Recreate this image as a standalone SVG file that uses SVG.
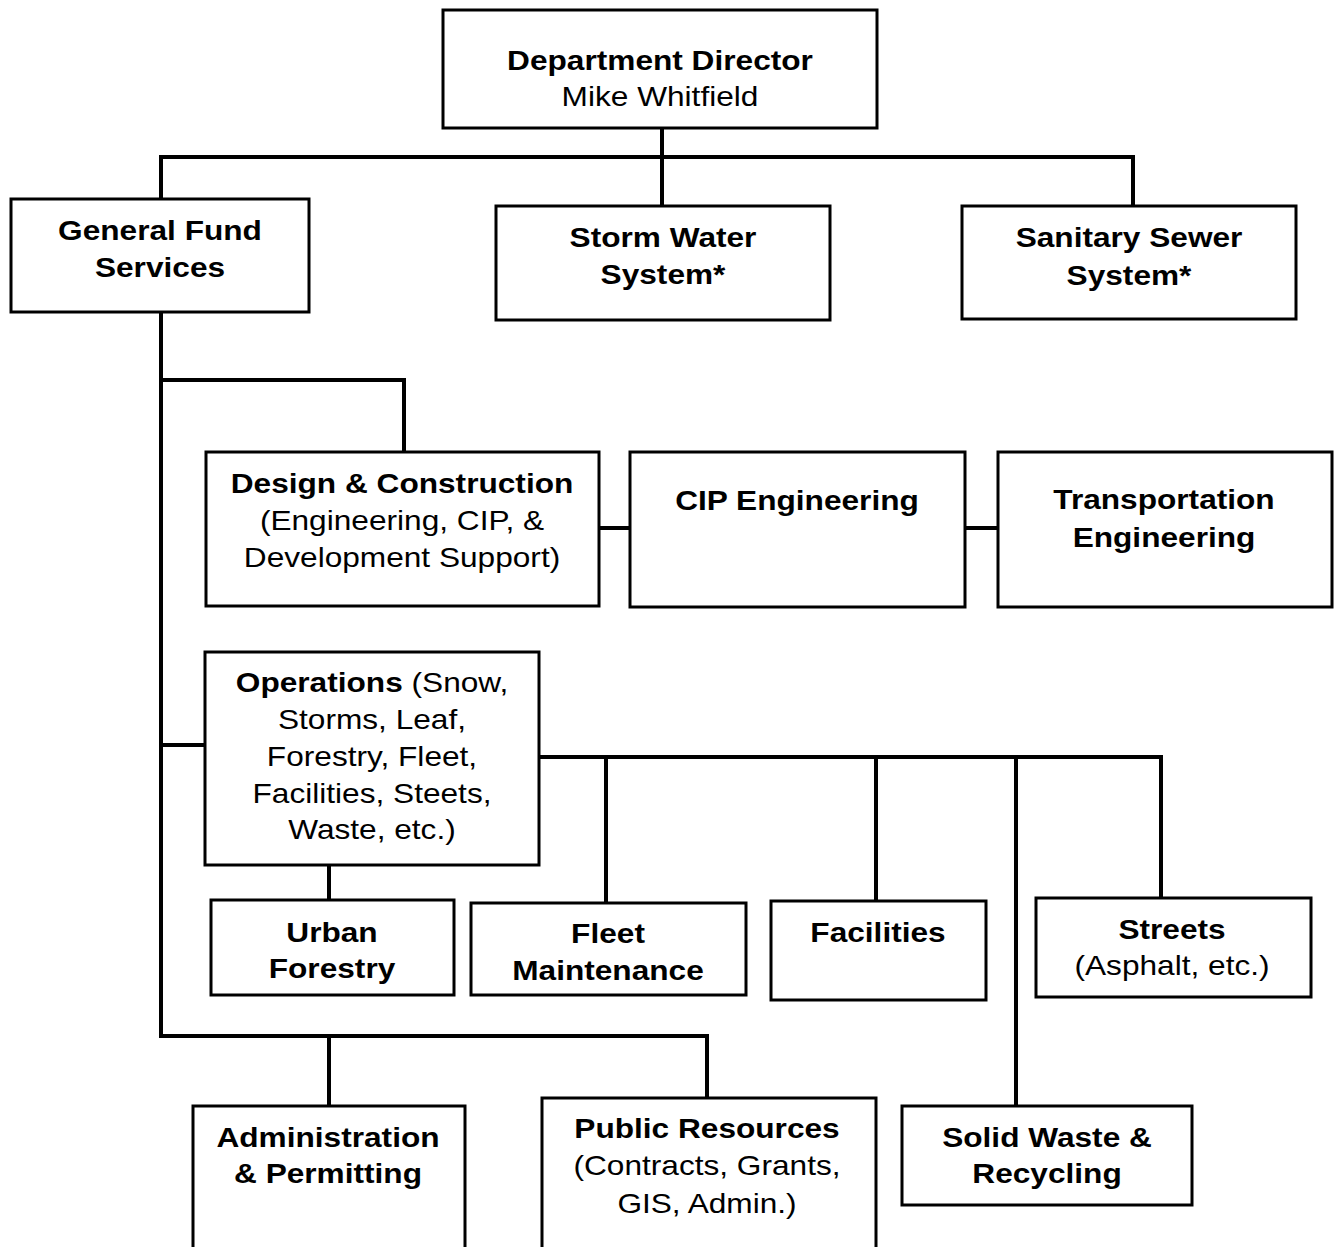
<svg xmlns="http://www.w3.org/2000/svg" width="1334" height="1247" viewBox="0 0 1334 1247">
<style>
.box{fill:#fff;stroke:#000;stroke-width:3}
.ln{fill:none;stroke:#000;stroke-width:4;stroke-linecap:square}
text{font-family:"Liberation Sans",Arial,sans-serif;font-size:28px;text-anchor:middle;fill:#000}
.b{font-weight:bold}
</style>
<rect width="1334" height="1247" fill="#fff"/>
<g id="connectors">
<path class="ln" d="M662 128V157M161 157H1133M161 157V199M662 157V206M1133 157V206"/>
<path class="ln" d="M161 312V1036M161 380H404V452M161 745H205"/>
<path class="ln" d="M599 528H630M965 528H998"/>
<path class="ln" d="M539 757H1161M606 757V903M876 757V901M1016 757V1106M1161 757V898M329 865V900"/>
<path class="ln" d="M161 1036H707V1098M329 1036V1106"/>
</g>
<g id="director"><rect class="box" x="443" y="10" width="434" height="118"/>
<text transform="translate(660,0) scale(1.13,1)" y="70" class="b">Department Director</text>
<text transform="translate(660,0) scale(1.13,1)" y="106">Mike Whitfield</text></g>
<g id="general"><rect class="box" x="11" y="199" width="298" height="113"/>
<text transform="translate(160,0) scale(1.13,1)" y="240" class="b">General Fund</text>
<text transform="translate(160,0) scale(1.13,1)" y="277" class="b">Services</text></g>
<g id="storm"><rect class="box" x="496" y="206" width="334" height="114"/>
<text transform="translate(663,0) scale(1.13,1)" y="247" class="b">Storm Water</text>
<text transform="translate(663,0) scale(1.13,1)" y="284" class="b">System*</text></g>
<g id="sanitary"><rect class="box" x="962" y="206" width="334" height="113"/>
<text transform="translate(1129,0) scale(1.13,1)" y="247" class="b">Sanitary Sewer</text>
<text transform="translate(1129,0) scale(1.13,1)" y="285" class="b">System*</text></g>
<g id="design"><rect class="box" x="206" y="452" width="393" height="154"/>
<text transform="translate(402,0) scale(1.13,1)" y="493" class="b">Design &amp; Construction</text>
<text transform="translate(402,0) scale(1.13,1)" y="530">(Engineering, CIP, &amp;</text>
<text transform="translate(402,0) scale(1.13,1)" y="567">Development Support)</text></g>
<g id="cip"><rect class="box" x="630" y="452" width="335" height="155"/>
<text transform="translate(797,0) scale(1.13,1)" y="510" class="b">CIP Engineering</text></g>
<g id="transport"><rect class="box" x="998" y="452" width="334" height="155"/>
<text transform="translate(1164,0) scale(1.13,1)" y="509" class="b">Transportation</text>
<text transform="translate(1164,0) scale(1.13,1)" y="547" class="b">Engineering</text></g>
<g id="operations"><rect class="box" x="205" y="652" width="334" height="213"/>
<text transform="translate(372,0) scale(1.13,1)" y="692"><tspan class="b">Operations</tspan> (Snow,</text>
<text transform="translate(372,0) scale(1.13,1)" y="729">Storms, Leaf,</text>
<text transform="translate(372,0) scale(1.13,1)" y="766">Forestry, Fleet,</text>
<text transform="translate(372,0) scale(1.13,1)" y="803">Facilities, Steets,</text>
<text transform="translate(372,0) scale(1.13,1)" y="839">Waste, etc.)</text></g>
<g id="urban"><rect class="box" x="211" y="900" width="243" height="95"/>
<text transform="translate(332,0) scale(1.13,1)" y="942" class="b">Urban</text>
<text transform="translate(332,0) scale(1.13,1)" y="978" class="b">Forestry</text></g>
<g id="fleet"><rect class="box" x="471" y="903" width="275" height="92"/>
<text transform="translate(608,0) scale(1.13,1)" y="943" class="b">Fleet</text>
<text transform="translate(608,0) scale(1.13,1)" y="980" class="b">Maintenance</text></g>
<g id="facilities"><rect class="box" x="771" y="901" width="215" height="99"/>
<text transform="translate(878,0) scale(1.13,1)" y="942" class="b">Facilities</text></g>
<g id="streets"><rect class="box" x="1036" y="898" width="275" height="99"/>
<text transform="translate(1172,0) scale(1.13,1)" y="939" class="b">Streets</text>
<text transform="translate(1172,0) scale(1.13,1)" y="975">(Asphalt, etc.)</text></g>
<g id="admin"><rect class="box" x="193" y="1106" width="272" height="160"/>
<text transform="translate(328,0) scale(1.13,1)" y="1147" class="b">Administration</text>
<text transform="translate(328,0) scale(1.13,1)" y="1183" class="b">&amp; Permitting</text></g>
<g id="public"><rect class="box" x="542" y="1098" width="334" height="170"/>
<text transform="translate(707,0) scale(1.13,1)" y="1138" class="b">Public Resources</text>
<text transform="translate(707,0) scale(1.13,1)" y="1175">(Contracts, Grants,</text>
<text transform="translate(707,0) scale(1.13,1)" y="1213">GIS, Admin.)</text></g>
<g id="solidwaste"><rect class="box" x="902" y="1106" width="290" height="99"/>
<text transform="translate(1047,0) scale(1.13,1)" y="1147" class="b">Solid Waste &amp;</text>
<text transform="translate(1047,0) scale(1.13,1)" y="1183" class="b">Recycling</text></g>
</svg>
